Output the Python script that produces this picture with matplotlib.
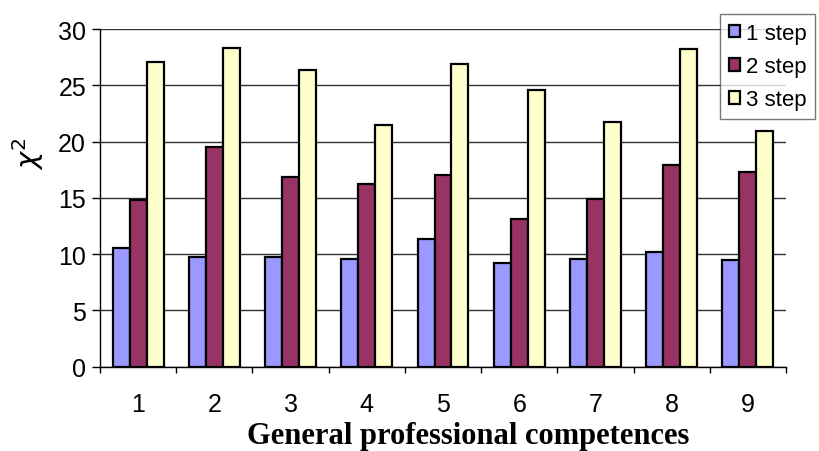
import numpy as np
import matplotlib
matplotlib.use("Agg")
import matplotlib.pyplot as plt

# chi-square values for each competence, per step
competences = ['1', '2', '3', '4', '5', '6', '7', '8', '9']
step1 = [10.5, 9.7, 9.7, 9.55, 11.3, 9.25, 9.6, 10.15, 9.5]
step2 = [14.8, 19.5, 16.85, 16.2, 17.0, 13.1, 14.85, 17.9, 17.3]
step3 = [27.1, 28.3, 26.35, 21.5, 26.85, 24.55, 21.75, 28.25, 20.9]
series_names = ['1 step', '2 step', '3 step']
colors = ['#9999FF', '#993366', '#FFFFCC']

plt.rcParams['font.family'] = ['Liberation Sans', 'DejaVu Sans']

fig = plt.figure(figsize=(8.19, 4.52), dpi=100)
ax = fig.add_axes([100 / 819, 1 - 367.6 / 452, 686 / 819, 337.6 / 452])

x = np.arange(1, len(competences) + 1)
w = 0.223
for i, (vals, name, c) in enumerate(zip([step1, step2, step3], series_names, colors)):
    ax.bar(x + (i - 1) * w, vals, w, color=c, edgecolor='black', linewidth=1.6,
           label=name, zorder=3)

ax.set_xlim(0.5, 9.5)
ax.set_ylim(0, 30)
ax.set_yticks(range(0, 31, 5))
ax.yaxis.grid(True, color='#333333', linewidth=1.0, zorder=0)
ax.set_axisbelow(True)

ax.set_xticks(x)
ax.set_xticklabels(competences)
ax.set_xticks(np.arange(0.5, 10, 1), minor=True)
ax.tick_params(axis='x', which='major', length=0, pad=18, labelsize=18)
ax.tick_params(axis='x', which='minor', length=4, width=1, direction='out')
ax.tick_params(axis='y', length=6, width=1, direction='out', pad=4, labelsize=18)

for s in ['top', 'right']:
    ax.spines[s].set_visible(False)
for s in ['left', 'bottom']:
    ax.spines[s].set_linewidth(1.0)
    ax.spines[s].set_color('black')

fig.text(468 / 819, 1 - 444.5 / 452, 'General professional competences',
         ha='center', va='baseline', fontsize=22, fontweight='bold',
         family=['Liberation Serif', 'DejaVu Serif'])
fig.text(28 / 819, 1 - 154 / 452, r'$\chi^2$', rotation=90, ha='center', va='center',
         fontsize=21)

# legend runs past the right edge of the figure
leg = fig.legend(loc='upper left', bbox_to_anchor=(720 / 819, 1 - 15 / 452),
                 fontsize=16, handlelength=0.5, handleheight=0.5,
                 handletextpad=0.25, labelspacing=0.55, borderpad=0.4,
                 borderaxespad=0, fancybox=False, frameon=True)
leg.get_frame().set_edgecolor('#555555')
leg.get_frame().set_linewidth(1.0)

plt.savefig('out.png', dpi=100)
